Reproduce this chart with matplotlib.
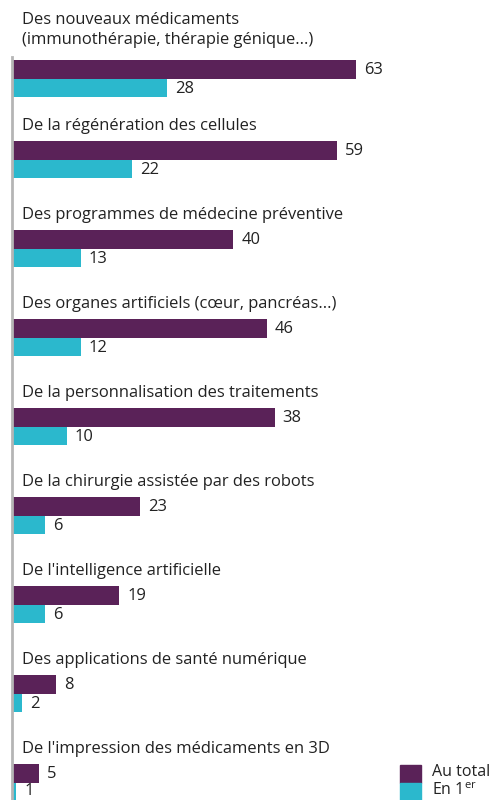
import matplotlib.pyplot as plt
from matplotlib.patches import Rectangle

plt.rcParams['font.family'] = ['Open Sans', 'DejaVu Sans']
plt.rcParams['mathtext.fontset'] = 'custom'
plt.rcParams['mathtext.rm'] = 'Open Sans'

categories = [
    "Des nouveaux médicaments\n(immunothérapie, thérapie génique...)",
    "De la régénération des cellules",
    "Des programmes de médecine préventive",
    "Des organes artificiels (cœur, pancréas...)",
    "De la personnalisation des traitements",
    "De la chirurgie assistée par des robots",
    "De l'intelligence artificielle",
    "Des applications de santé numérique",
    "De l'impression des médicaments en 3D",
]
# printed values
au_total = [63, 59, 40, 46, 38, 23, 19, 8, 5]
en_premier = [28, 22, 13, 12, 10, 6, 6, 2, 1]
# bar lengths as drawn in the source (the "38" bar is drawn longer)
au_total_len = [63, 59.6, 40.5, 46.7, 48.1, 23.4, 19.6, 8, 5]
en_premier_len = [28.4, 22, 12.6, 12.6, 10, 6, 6, 1.8, 0.8]
series_names = ["Au total", "En 1$^{\\mathrm{er}}$"]

PURPLE = '#5a2258'
CYAN = '#2bb8cd'
TEXT = '#222222'
FS = 11.9

W, H = 498, 800
PX = 5.46  # pixels per percentage point

fig = plt.figure(figsize=(W / 100, H / 100), dpi=100)
ax = fig.add_axes([12 / W, 0, (W - 12) / W, 1])
ax.set_xlim(0, (W - 12) / PX)
ax.set_ylim(H, 0)
ax.axis('off')

# group layout (pixel rows, top of purple bar); first label has two lines
bar_h = 18.5
tops = [60] + [141 + i * 89 for i in range(len(categories) - 1)]
y_tot = [t + bar_h / 2 for t in tops]
y_first = [t + bar_h * 1.5 for t in tops]

ax.barh(y_tot, au_total_len, height=bar_h, color=PURPLE, left=0)
ax.barh(y_first, en_premier_len, height=bar_h, color=CYAN, left=0)

# vertical baseline
ax.plot([0, 0], [57, H], color='#b5b5b5', lw=2, clip_on=False)

for i, cat in enumerate(categories):
    ly = tops[i] - (30 if '\n' in cat else 15)
    ax.text(10 / PX, ly, cat, va='center', ha='left', fontsize=FS,
            color=TEXT, linespacing=1.35)
    ax.text(au_total_len[i] + 8 / PX, y_tot[i] + 1, str(au_total[i]),
            va='center', ha='left', fontsize=FS, color=TEXT)
    ax.text(en_premier_len[i] + 8 / PX, min(y_first[i] + 1, 791), str(en_premier[i]),
            va='center', ha='left', fontsize=FS, color=TEXT)

# legend, drawn in figure pixels
legend_text_y = [772, 791]
for j, (name, col) in enumerate(zip(series_names, [PURPLE, CYAN])):
    y0 = 765 + j * 18
    fig.patches.append(Rectangle((400 / W, 1 - (y0 + 18) / H), 20.5 / W, 18 / H,
                                 transform=fig.transFigure, color=col))
    fig.text(432 / W, 1 - legend_text_y[j] / H, name, va='center', ha='left',
             fontsize=11.5, color=TEXT)

fig.savefig('out.png', dpi=100)
